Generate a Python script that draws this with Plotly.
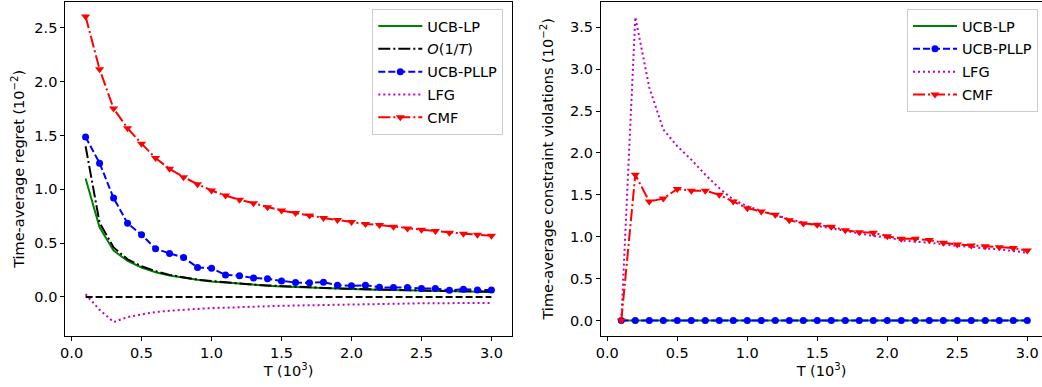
import plotly.graph_objects as go

T = [0.1, 0.2, 0.3, 0.4, 0.5, 0.6, 0.7, 0.8, 0.9, 1.0,
     1.1, 1.2, 1.3, 1.4, 1.5, 1.6, 1.7, 1.8, 1.9, 2.0,
     2.1, 2.2, 2.3, 2.4, 2.5, 2.6, 2.7, 2.8, 2.9, 3.0]

# ---- left panel: time-average regret (1e-2)
regret_ucblp = [1.10, 0.647, 0.43, 0.336, 0.274, 0.23, 0.199, 0.177, 0.159, 0.143,
                0.132, 0.122, 0.113, 0.105, 0.098, 0.092, 0.087, 0.082, 0.077, 0.073,
                0.069, 0.066, 0.063, 0.060, 0.057, 0.054, 0.052, 0.050, 0.048, 0.046]
regret_o1t = [1.40, 0.69, 0.46, 0.35, 0.285, 0.24, 0.205, 0.18, 0.16, 0.148,
              0.135, 0.124, 0.115, 0.107, 0.100, 0.094, 0.088, 0.083, 0.079, 0.075,
              0.071, 0.068, 0.065, 0.062, 0.060, 0.057, 0.055, 0.053, 0.051, 0.050]
regret_ucbpllp = [1.486, 1.243, 0.92, 0.684, 0.578, 0.448, 0.404, 0.367, 0.274, 0.267,
                  0.205, 0.196, 0.177, 0.168, 0.149, 0.134, 0.131, 0.137, 0.109, 0.103,
                  0.109, 0.090, 0.087, 0.087, 0.078, 0.078, 0.062, 0.072, 0.065, 0.065]
regret_lfg = [0.025, -0.12, -0.233, -0.187, -0.162, -0.14, -0.128, -0.118, -0.112, -0.103,
              -0.100, -0.093, -0.090, -0.086, -0.082, -0.079, -0.076, -0.073, -0.070, -0.068,
              -0.066, -0.064, -0.062, -0.061, -0.059, -0.058, -0.057, -0.057, -0.056, -0.056]
regret_cmf = [2.605, 2.115, 1.75, 1.567, 1.424, 1.29, 1.19, 1.113, 1.048, 0.989,
              0.942, 0.902, 0.871, 0.833, 0.802, 0.780, 0.756, 0.734, 0.715, 0.697,
              0.678, 0.669, 0.653, 0.637, 0.625, 0.613, 0.597, 0.588, 0.578, 0.569]
regret_zero = [0.0] * 30

# ---- right panel: time-average constraint violations (1e-2)
viol_ucblp = [0.0] * 30
viol_ucbpllp = [0.0] * 30
viol_lfg = [0.0, 3.62, 2.78, 2.28, 2.08, 1.92, 1.74, 1.58, 1.44, 1.365,
            1.31, 1.26, 1.21, 1.17, 1.13, 1.10, 1.07, 1.04, 1.01, 0.99,
            0.96, 0.94, 0.93, 0.91, 0.89, 0.88, 0.86, 0.85, 0.83, 0.81]
viol_cmf = [0.0, 1.74, 1.42, 1.456, 1.57, 1.55, 1.55, 1.50, 1.42, 1.341,
            1.301, 1.262, 1.198, 1.158, 1.143, 1.119, 1.079, 1.055, 1.048, 1.007,
            0.976, 0.976, 0.960, 0.928, 0.908, 0.896, 0.888, 0.876, 0.865, 0.837]

x_ticks = [0.0, 0.5, 1.0, 1.5, 2.0, 2.5, 3.0]
left_yticks = [0.0, 0.5, 1.0, 1.5, 2.0, 2.5]
right_yticks = [0.0, 0.5, 1.0, 1.5, 2.0, 2.5, 3.0, 3.5]

GREEN, BLACK, BLUE, MAG, RED = "#008000", "#000000", "#0000ff", "#bf00bf", "#ff0000"
DASHDOT = "12px,3px,2px,3px"
DASHED = "7px,3px"
DOTTED = "2px,3px"
FONT = "DejaVu Sans"
FS = 14.5

fig = go.Figure()

def add(x, y, name, color, dash, xa, ya, leg, symbol=None, msize=7, showlegend=True):
    fig.add_trace(go.Scatter(
        x=x, y=y, name=name,
        mode="lines+markers" if symbol else "lines",
        line=dict(color=color, width=2, dash=dash),
        marker=dict(symbol=symbol or "circle", size=msize, color=color),
        xaxis=xa, yaxis=ya, legend=leg, legendgroup=leg + name,
        showlegend=showlegend))

# left traces
add(T, regret_ucblp, "UCB-LP", GREEN, "solid", "x", "y", "legend")
add(T, regret_o1t, "<i>O</i>(1/<i>T</i>)", BLACK, DASHDOT, "x", "y", "legend")
add(T, regret_ucbpllp, "UCB-PLLP", BLUE, DASHED, "x", "y", "legend", symbol="circle", msize=7)
add(T, regret_lfg, "LFG", MAG, DOTTED, "x", "y", "legend")
add(T, regret_cmf, "CMF", RED, DASHDOT, "x", "y", "legend", symbol="triangle-down", msize=8)
add(T, regret_zero, "zero", BLACK, DASHED, "x", "y", "legend", showlegend=False)

# right traces
add(T, viol_ucblp, "UCB-LP", GREEN, "solid", "x2", "y2", "legend2")
add(T, viol_ucbpllp, "UCB-PLLP", BLUE, DASHED, "x2", "y2", "legend2", symbol="circle", msize=7)
add(T, viol_lfg, "LFG", MAG, DOTTED, "x2", "y2", "legend2")
add(T, viol_cmf, "CMF", RED, DASHDOT, "x2", "y2", "legend2", symbol="triangle-down", msize=8)

W, H = 1042, 387
axis_common = dict(showgrid=False, zeroline=False, showline=True, mirror=True,
                   linecolor="black", linewidth=1, ticks="outside", ticklen=4,
                   tickcolor="black", tickwidth=1, automargin=False,
                   tickfont=dict(family=FONT, size=FS, color="black"))

ytop = 1 - 2 / H
ybot = 1 - 335.7 / H
legend_common = dict(yanchor="top", xanchor="right", y=1 - 9 / H,
                     bgcolor="rgba(255,255,255,0.8)", bordercolor="#cccccc", borderwidth=1,
                     tracegroupgap=1, itemwidth=44,
                     font=dict(family=FONT, size=FS, color="black"))

fig.update_layout(
    width=W, height=H,
    margin=dict(l=0, r=0, t=0, b=0),
    paper_bgcolor="white", plot_bgcolor="white",
    font=dict(family=FONT, size=FS, color="black"),
    xaxis=dict(domain=[65.3 / W, 511.7 / W], range=[-0.045, 3.145], tickvals=x_ticks,
               tickformat=".1f", anchor="y",
               title=dict(text="T (10<sup>3</sup>)", font=dict(family=FONT, size=FS), standoff=4),
               **axis_common),
    yaxis=dict(domain=[ybot, ytop], range=[-0.36, 2.74], tickvals=left_yticks,
               tickformat=".1f", anchor="x",
               title=dict(text="Time-average regret (10<sup>−2</sup>)", font=dict(family=FONT, size=FS), standoff=6),
               **axis_common),
    xaxis2=dict(domain=[601.0 / W, 1.0], range=[-0.045, 3.105], tickvals=x_ticks,
                tickformat=".1f", anchor="y2",
                title=dict(text="T (10<sup>3</sup>)", font=dict(family=FONT, size=FS), standoff=4),
                **axis_common),
    yaxis2=dict(domain=[ybot, ytop], range=[-0.18, 3.80], tickvals=right_yticks,
                tickformat=".1f", anchor="x2",
                title=dict(text="Time-average constraint violations (10<sup>−2</sup>)", font=dict(family=FONT, size=FS), standoff=12),
                **axis_common),
    legend=dict(x=503.3 / W, **legend_common),
    legend2=dict(x=1038 / W, **legend_common),
)

fig.write_html("out.html",
               config={"displayModeBar": False},
               post_script="document.body.style.margin='0';document.body.style.overflow='hidden';")
